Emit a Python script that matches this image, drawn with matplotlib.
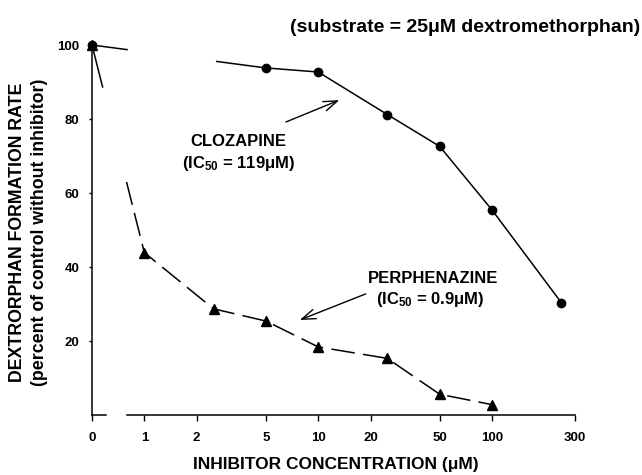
import matplotlib
matplotlib.use("Agg")
import matplotlib.pyplot as plt

plt.rcParams['font.family'] = ['Liberation Sans', 'DejaVu Sans']
plt.rcParams['font.weight'] = 'bold'
plt.rcParams['mathtext.fontset'] = 'custom'
plt.rcParams['mathtext.rm'] = 'Liberation Sans:bold'
plt.rcParams['mathtext.it'] = 'Liberation Sans:bold'
plt.rcParams['mathtext.bf'] = 'Liberation Sans:bold'
plt.rcParams['lines.scale_dashes'] = False

# "0" concentration is drawn at 0.5 on the log axis (axis break)
zero_pos = 0.5

cloz_conc = [zero_pos, 5, 10, 25, 50, 100, 250]
cloz_rate = [100, 93.8, 92.7, 81.2, 72.6, 55.4, 30.4]

perph_conc = [zero_pos, 1, 2.5, 5, 10, 25, 50, 100]
perph_rate = [100, 43.9, 28.7, 25.4, 18.4, 15.3, 5.6, 2.8]

xticks = [zero_pos, 1, 2, 5, 10, 20, 50, 100, 300]
xticklabels = ['0', '1', '2', '5', '10', '20', '50', '100', '300']
yticks = [20, 40, 60, 80, 100]

fig = plt.figure(figsize=(6.42, 4.75), dpi=100)
ax = fig.add_axes([92 / 642, 1 - 415 / 475, (575 - 92) / 642, (415 - 45) / 475])

# perphenazine: long first dash, a gap across the axis break, then regular dashes
perph_dash = [31.7, 70] + [17, 6] * 60
ax.plot(perph_conc, perph_rate, color='black', lw=1.1, dashes=perph_dash,
        marker='^', markersize=6.5, clip_on=False, zorder=3)
# clozapine: short piece, gap, then solid
ax.plot(cloz_conc, cloz_rate, color='black', lw=1.1, dashes=[26, 64, 10000, 1],
        marker='o', markersize=6, clip_on=False, zorder=4)

ax.set_xscale('log')
ax.set_xlim(zero_pos, 300)
ax.set_ylim(0, 100)
ax.set_xticks(xticks)
ax.set_xticklabels(xticklabels)
ax.minorticks_off()
ax.set_yticks(yticks)
ax.tick_params(axis='x', direction='out', length=4, width=1, pad=8, labelsize=9.5)
ax.tick_params(axis='y', direction='out', length=2, width=1, pad=7, labelsize=9.5)
for lab in ax.get_xticklabels() + ax.get_yticklabels():
    lab.set_fontweight('bold')

ax.spines['top'].set_visible(False)
ax.spines['right'].set_visible(False)
ax.spines['left'].set_linewidth(1.1)
ax.spines['bottom'].set_linewidth(1.1)
ax.spines['bottom'].set_bounds(0.79, 300)
ax.plot([zero_pos, 0.6], [0, 0], color='black', lw=1.1, clip_on=False)

fig.text(336 / 642, 1 - 464 / 475, 'INHIBITOR CONCENTRATION (μM)',
         ha='center', va='center', fontsize=12.5, fontweight='bold')
fig.text(18 / 642, 1 - 232 / 475, 'DEXTRORPHAN FORMATION RATE', rotation=90,
         ha='center', va='center', fontsize=12.8, fontweight='bold')
fig.text(40 / 642, 1 - 232 / 475, '(percent of control without inhibitor)', rotation=90,
         ha='center', va='center', fontsize=12.8, fontweight='bold')
fig.text(465 / 642, 1 - 28 / 475, '(substrate = 25μM dextromethorphan)',
         ha='center', va='center', fontsize=14, fontweight='bold')

ax.text(3.49, 74.0, 'CLOZAPINE', ha='center', va='center', fontsize=12, fontweight='bold')
ax.text(3.49, 68.1, r'(IC$_{50}$ = 119μM)', ha='center', va='center', fontsize=12, fontweight='bold')
ax.annotate('', xy=(13.7, 85.4), xytext=(6.3, 78.9),
            arrowprops=dict(arrowstyle='->,head_length=1.0,head_width=0.35', color='black', lw=1))

ax.text(45.8, 37.0, 'PERPHENAZINE', ha='center', va='center', fontsize=12, fontweight='bold')
ax.text(44.1, 31.1, r'(IC$_{50}$ = 0.9μM)', ha='center', va='center', fontsize=12, fontweight='bold')
ax.annotate('', xy=(7.57, 25.4), xytext=(19.4, 33.0),
            arrowprops=dict(arrowstyle='->,head_length=1.0,head_width=0.35', color='black', lw=1))

fig.savefig('out.png', dpi=100)
